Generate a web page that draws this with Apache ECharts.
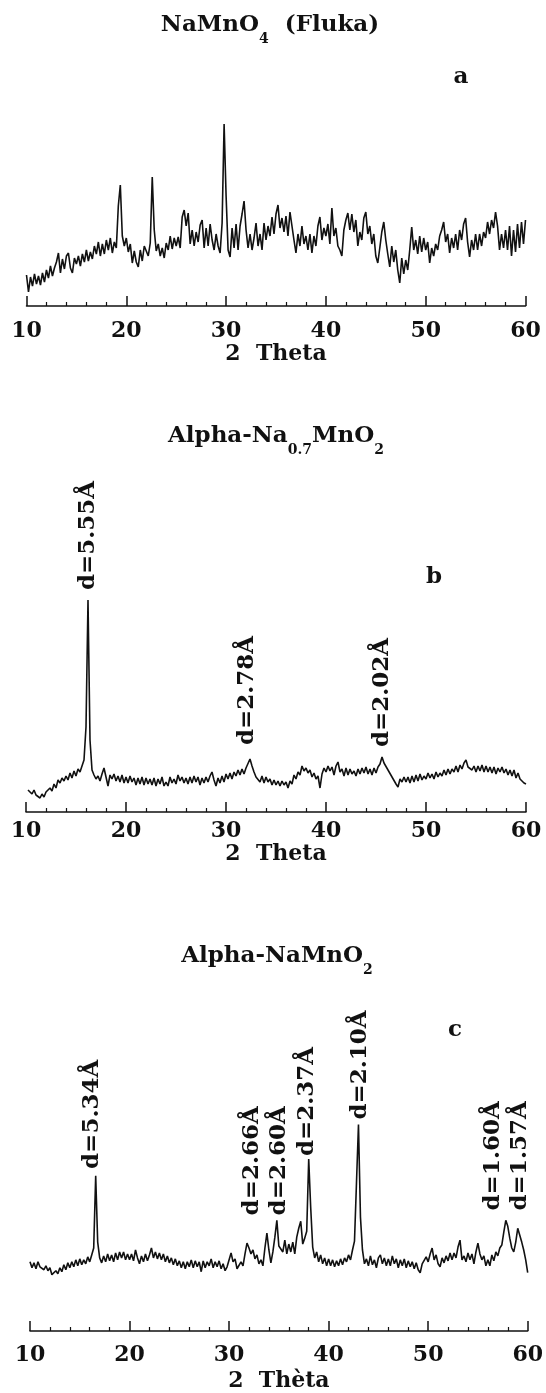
<!DOCTYPE html>
<html>
<head>
<meta charset="utf-8">
<title>XRD patterns</title>
<script src="https://cdn.jsdelivr.net/npm/echarts@6/dist/echarts.min.js"></script>
<style>
  html, body { margin: 0; padding: 0; background: #fff; }
  #chart { width: 546px; height: 1393px; }
</style>
</head>
<body>
<div id="chart"></div>
<script>
  // 2 theta scans, one reading every 0.2 degree
  const scanStep = 0.2;
  const startA = 10.0, startB = 10.2, startC = 10.0;
  const thetaMin = 10, thetaMax = 60, thetaInterval = 10;

  // a - NaMnO4 (Fluka), intensity in arbitrary units
  const intensityA = [
    31, 14, 29, 20, 32, 22, 30, 21, 33, 24,
    36, 28, 40, 30, 38, 44, 53, 33, 47, 37,
    50, 53, 38, 33, 48, 42, 50, 40, 52, 44,
    56, 45, 54, 47, 60, 52, 64, 50, 62, 52,
    66, 56, 68, 53, 64, 58, 100, 121, 70, 60,
    68, 54, 62, 43, 55, 44, 39, 56, 45, 60,
    62, 50, 63, 129, 76, 55, 62, 50, 58, 48,
    63, 56, 70, 57, 68, 60, 69, 58, 89, 96,
    80, 93, 62, 76, 60, 74, 64, 81, 86, 58,
    78, 60, 82, 66, 56, 72, 60, 53, 83, 182,
    110, 56, 49, 78, 58, 82, 56, 80, 92, 105,
    76, 58, 72, 56, 68, 83, 60, 72, 56, 83,
    66, 80, 70, 89, 72, 92, 101, 78, 88, 74,
    90, 70, 94, 96, 66, 53, 72, 60, 80, 62,
    70, 56, 72, 53, 70, 60, 80, 89, 66, 78,
    70, 82, 62, 98, 70, 78, 60, 56, 50, 76,
    86, 93, 76, 92, 74, 86, 60, 74, 66, 88,
    94, 72, 80, 62, 72, 50, 43, 58, 74, 84,
    66, 52, 39, 60, 44, 56, 36, 23, 48, 32,
    46, 36, 56, 79, 56, 66, 52, 70, 54, 68,
    56, 64, 43, 58, 50, 62, 56, 70, 76, 84,
    64, 72, 53, 68, 58, 72, 56, 76, 66, 82,
    88, 64, 49, 66, 56, 72, 56, 72, 60, 74,
    68, 84, 72, 86, 78, 94, 80, 56, 72, 58,
    76, 56, 80, 50, 76, 54, 82, 58, 84, 62,
    86
  ];

  // b - Alpha-Na0.7MnO2 (starts at 10.2)
  const intensityB = [
    22, 24, 18, 22, 17, 16, 14, 18, 15,
    20, 18, 24, 21, 28, 24, 32, 29, 34, 31,
    36, 32, 39, 34, 41, 36, 43, 40, 46, 52,
    85, 212, 72, 42, 37, 33, 36, 31, 38, 44,
    35, 26, 37, 33, 38, 31, 36, 30, 37, 29,
    35, 29, 36, 30, 34, 27, 34, 28, 35, 27,
    34, 28, 33, 27, 34, 26, 33, 28, 35, 26,
    30, 26, 35, 29, 33, 28, 37, 31, 35, 29,
    34, 28, 35, 29, 36, 30, 35, 27, 34, 29,
    35, 30, 36, 40, 32, 26, 34, 29, 36, 30,
    38, 33, 39, 33, 40, 36, 42, 37, 43, 38,
    44, 42, 53, 46, 40, 35, 36, 30, 36, 29,
    35, 30, 33, 27, 32, 27, 31, 26, 31, 27,
    30, 24, 31, 28, 37, 33, 40, 37, 46, 41,
    44, 39, 42, 35, 39, 33, 36, 24, 38, 44,
    40, 46, 41, 45, 37, 46, 50, 40, 43, 36,
    44, 37, 43, 38, 41, 36, 43, 38, 44, 39,
    45, 38, 43, 37, 44, 39, 45, 48, 55, 49,
    49, 42, 41, 35, 34, 28, 25, 33, 30, 35,
    30, 35, 29, 36, 30, 37, 31, 38, 32, 36,
    33, 39, 34, 38, 33, 40, 35, 39, 36, 42,
    37, 43, 38, 43, 40, 46, 40, 47, 43, 49,
    52, 45, 47, 42, 46, 40, 46, 41, 47, 40,
    46, 40, 45, 39, 45, 38, 44, 40, 45, 39,
    43, 37, 42, 36, 42, 34, 39, 33, 35, 29,
    28
  ];

  // c - Alpha-NaMnO2
  const intensityC = [
    70, 64, 69, 63, 70, 65, 67, 62, 66, 61,
    64, 57, 56, 61, 58, 64, 60, 67, 62, 69,
    64, 70, 65, 72, 66, 73, 67, 72, 68, 75,
    70, 77, 84, 157, 90, 74, 69, 76, 70, 78,
    71, 77, 70, 79, 72, 80, 74, 80, 72, 78,
    72, 78, 71, 82, 74, 68, 76, 70, 78, 71,
    77, 84, 74, 80, 73, 79, 72, 78, 70, 76,
    69, 74, 67, 73, 66, 71, 64, 70, 63, 70,
    65, 72, 64, 71, 65, 70, 60, 71, 64, 70,
    66, 73, 64, 70, 65, 71, 63, 68, 61, 65,
    66, 79, 70, 73, 63, 61, 70, 66, 78, 89,
    84, 78, 82, 73, 77, 68, 72, 66, 84, 99,
    82, 69, 80, 95, 112, 86, 88, 80, 92, 78,
    88, 80, 90, 78, 95, 104, 111, 88, 94, 101,
    174, 125, 85, 74, 80, 70, 77, 68, 74, 66,
    73, 66, 72, 65, 71, 66, 73, 67, 74, 70,
    77, 72, 82, 91, 150, 209, 115, 82, 68, 73,
    66, 76, 67, 72, 64, 74, 77, 68, 74, 66,
    73, 66, 76, 68, 73, 64, 72, 66, 73, 64,
    71, 65, 70, 63, 69, 62, 59, 68, 66, 75,
    70, 78, 84, 72, 77, 68, 65, 74, 69, 76,
    71, 79, 72, 79, 74, 85, 92, 72, 76, 70,
    79, 72, 78, 68, 80, 89, 78, 72, 76, 66,
    72, 66, 77, 71, 80, 76, 84, 87, 100, 112,
    106, 94, 84, 80, 90, 104, 106, 90, 82, 72,
    59
  ];

  // peak labels: text, 2 theta, intensity where the label starts
  const peakTextB = ['d=5.55Å', 'd=2.78Å', 'd=2.02Å'];
  const peakThetaB = [16.2, 32.15, 45.65];
  const peakBaseB = [222, 67, 65];

  const peakTextC = ['d=5.34Å', 'd=2.66Å', 'd=2.60Å', 'd=2.37Å', 'd=2.10Å', 'd=1.60Å', 'd=1.57Å'];
  const peakThetaC = [16.2, 32.3, 35.0, 37.8, 43.2, 56.5, 59.2];
  const peakBaseC = [164, 117, 117, 177, 214, 122, 122];

  const serif = '"DejaVu Serif", "Liberation Serif", serif';
  const ink = '#111';

  function toPairs(start, values) {
    return values.map((v, i) => [+(start + i * scanStep).toFixed(1), v]);
  }

  function xAxisFor(gridIndex, labelMargin, nameGap, name) {
    return {
      gridIndex: gridIndex,
      type: 'value',
      min: thetaMin,
      max: thetaMax,
      interval: thetaInterval,
      name: name,
      nameLocation: 'middle',
      nameGap: nameGap,
      nameTextStyle: { fontFamily: serif, fontWeight: 'bold', fontSize: 22, color: ink },
      axisLine: { onZero: false, lineStyle: { color: ink, width: 1.5 } },
      axisTick: { inside: true, length: 10, lineStyle: { color: ink, width: 1.5 } },
      minorTick: { show: true, splitNumber: 5, length: 4, lineStyle: { color: ink, width: 1.2 } },
      axisLabel: { margin: labelMargin, fontFamily: serif, fontWeight: 'bold', fontSize: 22, color: ink },
      splitLine: { show: false },
      minorSplitLine: { show: false }
    };
  }

  function yAxisFor(gridIndex, max) {
    return { gridIndex: gridIndex, type: 'value', min: 0, max: max, show: false };
  }

  function peakMarks(texts, thetas, bases) {
    return {
      symbol: 'circle',
      symbolSize: 0,
      silent: true,
      animation: false,
      label: {
        show: true,
        rotate: 90,
        position: 'inside',
        align: 'left',
        verticalAlign: 'middle',
        fontFamily: serif,
        fontWeight: 'bold',
        fontSize: 23,
        color: ink,
        formatter: p => p.name
      },
      data: texts.map((t, i) => ({ name: t, coord: [thetas[i], bases[i]] }))
    };
  }

  function pattern(index, start, values, marks) {
    const s = {
      type: 'line',
      xAxisIndex: index,
      yAxisIndex: index,
      data: toPairs(start, values),
      symbol: 'none',
      lineStyle: { color: ink, width: 1.6 },
      animation: false
    };
    if (marks) s.markPoint = marks;
    return s;
  }

  const subStyle = { fontFamily: serif, fontWeight: 'bold', fontSize: 14, lineHeight: 14, verticalAlign: 'bottom', fill: ink };

  function heading(x, y, text) {
    return {
      type: 'text',
      x: x,
      y: y,
      style: {
        text: text,
        fontFamily: serif,
        fontWeight: 'bold',
        fontSize: 23,
        lineHeight: 42,
        fill: ink,
        align: 'center',
        verticalAlign: 'middle',
        rich: { s: subStyle }
      }
    };
  }

  function letter(x, y, text) {
    return {
      type: 'text',
      x: x,
      y: y,
      style: {
        text: text,
        fontFamily: serif,
        fontWeight: 'bold',
        fontSize: 23,
        fill: ink,
        align: 'center',
        verticalAlign: 'middle'
      }
    };
  }

  const chart = echarts.init(document.getElementById('chart'));
  chart.setOption({
    backgroundColor: '#fff',
    animation: false,
    grid: [
      { left: 26.5, width: 499, top: 106, height: 200 },
      { left: 26, width: 500, top: 562, height: 250 },
      { left: 30, width: 500, top: 1084, height: 250 }
    ],
    xAxis: [
      xAxisFor(0, 14, 37, '2  Theta'),
      xAxisFor(1, 8, 28, '2  Theta'),
      xAxisFor(2, 13, 39, '2  Thèta')
    ],
    yAxis: [yAxisFor(0, 200), yAxisFor(1, 250), yAxisFor(2, 250)],
    series: [
      pattern(0, startA, intensityA, null),
      pattern(1, startB, intensityB, peakMarks(peakTextB, peakThetaB, peakBaseB)),
      pattern(2, startC, intensityC, peakMarks(peakTextC, peakThetaC, peakBaseC))
    ],
    graphic: [
      heading(270, 25, 'NaMnO{s|4}  (Fluka)'),
      heading(276, 436, 'Alpha-Na{s|0.7}MnO{s|2}'),
      heading(277, 956, 'Alpha-NaMnO{s|2}'),
      letter(461, 77, 'a'),
      letter(434, 577, 'b'),
      letter(455, 1030, 'c')
    ]
  });
</script>
</body>
</html>
